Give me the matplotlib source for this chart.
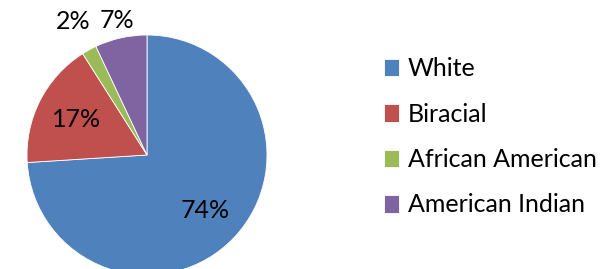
import matplotlib
matplotlib.use("Agg")
import matplotlib.pyplot as plt
import numpy as np

categories = ["White", "Biracial", "African American", "American Indian"]
values = [74, 17, 2, 7]
colors = ["#4F81BD", "#C0504D", "#9BBB59", "#8064A2"]
label_dist = [0.67, 0.66, 1.27, 1.15]

plt.rcParams['font.family'] = ['Lato', 'DejaVu Sans']
W, H = 613, 269
fig = plt.figure(figsize=(W/100, H/100), dpi=100)
cx, cy, r = 147, 155, 120
ax = fig.add_axes([(cx - r)/W, (H - cy - r)/H, 2*r/W, 2*r/H])
wedges, texts, autotexts = ax.pie(values, colors=colors, startangle=90, counterclock=False,
                                  autopct='%1.0f%%', radius=1.0,
                                  wedgeprops=dict(linewidth=0.6, edgecolor='white'),
                                  textprops=dict(fontsize=18, color='black'))
for w, t, d in zip(wedges, autotexts, label_dist):
    ang = np.deg2rad((w.theta1 + w.theta2) / 2)
    t.set_position((d*np.cos(ang), d*np.sin(ang)))
    t.set_ha('center'); t.set_va('center')
ax.set_xlim(-1, 1); ax.set_ylim(-1, 1)
ax.set_aspect('equal')
ax.axis('off')

leg = fig.legend(wedges, categories, loc='upper left', bbox_to_anchor=(384/W, 1 - 57/H),
                 frameon=False, fontsize=18, handlelength=0.6, handleheight=0.7,
                 handletextpad=0.35, labelspacing=0.9, borderaxespad=0, borderpad=0)
fig.savefig("out.png", dpi=100)
